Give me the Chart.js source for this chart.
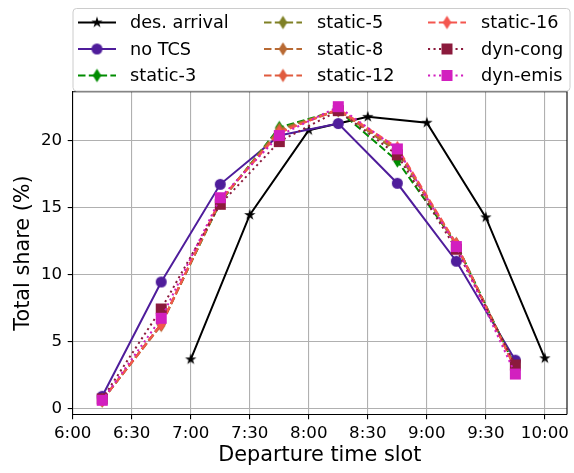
<!DOCTYPE html>
<html>
<head>
<meta charset="utf-8">
<script src="https://cdn.jsdelivr.net/npm/chart.js@4"></script>
<style>
  html, body { margin: 0; padding: 0; background: #fff; }
  canvas { display: block; }
</style>
</head>
<body>
<canvas id="shareChart" width="574" height="473"></canvas>
<script>
// Time slots (minutes after midnight)
const slotTimes = [375, 405, 435, 465, 495, 525, 555, 585];
const arrivalTimes = [420, 450, 480, 510, 540, 570, 600];

// Axis ticks
const xTickValues = [360, 390, 420, 450, 480, 510, 540, 570, 600];
const xTickLabels = ['6:00', '6:30', '7:00', '7:30', '8:00', '8:30', '9:00', '9:30', '10:00'];
const yTickValues = [0, 5, 10, 15, 20];

// Total share (%) per slot
const desArrival = [3.66, 14.46, 20.8, 21.8, 21.36, 14.28, 3.74];
const noTCS = [0.9, 9.45, 16.75, 20.4, 21.3, 16.83, 11.0, 3.6];
const static3 = [0.6, 6.3, 15.4, 21.0, 22.3, 18.5, 12.3, 3.1];
const static5 = [0.6, 6.3, 15.5, 20.9, 22.3, 19.2, 12.2, 3.0];
const static8 = [0.6, 6.2, 15.5, 20.8, 22.3, 19.3, 12.3, 3.0];
const static12 = [0.6, 6.3, 15.5, 20.7, 22.3, 19.4, 12.2, 3.0];
const static16 = [0.6, 6.3, 15.6, 20.6, 22.4, 19.5, 12.3, 2.9];
const dynCong = [0.7, 7.43, 15.26, 19.95, 22.26, 18.95, 11.9, 3.24];
const dynEmis = [0.6, 6.73, 15.75, 20.4, 22.56, 19.4, 12.1, 2.56];

const FONT = '"DejaVu Sans", sans-serif';
const DASHED = [7.5, 3.3];
const DOTTED = [2.1, 3.4];

/**
 * Build a small canvas used as a point marker
 */
function makeMarker(shape, color, w, h) {
    const c = document.createElement('canvas');
    c.width = Math.ceil(w) + 2;
    c.height = Math.ceil(h) + 2;
    const g = c.getContext('2d');
    const cx = c.width / 2, cy = c.height / 2;
    g.fillStyle = color;
    g.beginPath();
    if (shape === 'circle') {
        g.arc(cx, cy, w / 2, 0, Math.PI * 2);
    } else if (shape === 'square') {
        g.rect(cx - w / 2, cy - h / 2, w, h);
    } else if (shape === 'diamond') {
        g.moveTo(cx, cy - h / 2);
        g.lineTo(cx + w / 2, cy);
        g.lineTo(cx, cy + h / 2);
        g.lineTo(cx - w / 2, cy);
        g.closePath();
    } else if (shape === 'star') {
        for (let i = 0; i < 10; i++) {
            const r = i % 2 ? (w / 2) * 0.382 : w / 2;
            const a = -Math.PI / 2 + i * Math.PI / 5;
            g.lineTo(cx + r * Math.cos(a), cy + r * Math.sin(a));
        }
        g.closePath();
    }
    g.fill();
    return c;
}

const series = [
    { label: 'des. arrival', xs: arrivalTimes, ys: desArrival, color: '#000000', dash: [], marker: makeMarker('star', '#000000', 12, 12) },
    { label: 'no TCS', xs: slotTimes, ys: noTCS, color: '#4f1d9b', dash: [], marker: makeMarker('circle', '#4f1d9b', 11, 11) },
    { label: 'static-3', xs: slotTimes, ys: static3, color: '#008c00', dash: DASHED, marker: makeMarker('diamond', '#008c00', 8.5, 13.5) },
    { label: 'static-5', xs: slotTimes, ys: static5, color: '#7f8025', dash: DASHED, marker: makeMarker('diamond', '#7f8025', 8.5, 13.5) },
    { label: 'static-8', xs: slotTimes, ys: static8, color: '#b86a34', dash: DASHED, marker: makeMarker('diamond', '#b86a34', 8.5, 13.5) },
    { label: 'static-12', xs: slotTimes, ys: static12, color: '#e05b3e', dash: DASHED, marker: makeMarker('diamond', '#e05b3e', 8.5, 13.5) },
    { label: 'static-16', xs: slotTimes, ys: static16, color: '#f4564f', dash: DASHED, marker: makeMarker('diamond', '#f4564f', 8.5, 13.5) },
    { label: 'dyn-cong', xs: slotTimes, ys: dynCong, color: '#8b1a3c', dash: DOTTED, marker: makeMarker('square', '#8b1a3c', 11, 11) },
    { label: 'dyn-emis', xs: slotTimes, ys: dynEmis, color: '#d21fbf', dash: DOTTED, marker: makeMarker('square', '#d21fbf', 11, 11) }
];

// Legend grid positions (column-major, 3 rows)
const legendCols = [{ handle: 78, text: 130 }, { handle: 264, text: 317 }, { handle: 428, text: 481 }];
const legendRows = [22.5, 49, 75.5];

const frameAndLegend = {
    id: 'frameAndLegend',
    afterDatasetsDraw(chart) {
        const ctx = chart.ctx;
        const a = chart.chartArea;
        ctx.save();
        // top and right spines
        ctx.strokeStyle = '#000';
        ctx.lineWidth = 1.1;
        ctx.beginPath();
        ctx.moveTo(a.left, a.top);
        ctx.lineTo(a.right, a.top);
        ctx.lineTo(a.right, a.bottom);
        ctx.stroke();

        // legend box
        const bx = 73, by = 8.5, bw = 497, bh = 82.5, r = 3.5;
        ctx.beginPath();
        ctx.moveTo(bx + r, by);
        ctx.arcTo(bx + bw, by, bx + bw, by + bh, r);
        ctx.arcTo(bx + bw, by + bh, bx, by + bh, r);
        ctx.arcTo(bx, by + bh, bx, by, r);
        ctx.arcTo(bx, by, bx + bw, by, r);
        ctx.closePath();
        ctx.fillStyle = 'rgba(255,255,255,0.8)';
        ctx.fill();
        ctx.strokeStyle = '#cccccc';
        ctx.lineWidth = 1;
        ctx.stroke();

        // legend entries
        ctx.font = '17.7px ' + FONT;
        ctx.textBaseline = 'middle';
        ctx.textAlign = 'left';
        series.forEach((s, i) => {
            const col = legendCols[Math.floor(i / 3)];
            const y = legendRows[i % 3];
            ctx.strokeStyle = s.color;
            ctx.lineWidth = 2;
            ctx.setLineDash(s.dash);
            ctx.beginPath();
            ctx.moveTo(col.handle, y);
            ctx.lineTo(col.handle + 38, y);
            ctx.stroke();
            ctx.setLineDash([]);
            const m = s.marker;
            ctx.drawImage(m, col.handle + 19 - m.width / 2, y - m.height / 2);
            ctx.fillStyle = '#000';
            ctx.fillText(s.label, col.text, y + 1);
        });
        ctx.restore();
    }
};

const datasets = series.map((s, i) => ({
    label: s.label,
    data: s.xs.map((x, k) => ({ x: x, y: s.ys[k] })),
    borderColor: s.color,
    backgroundColor: s.color,
    borderWidth: 2,
    borderDash: s.dash,
    pointStyle: s.marker,
    pointRadius: 5,
    pointHoverRadius: 5,
    fill: false,
    tension: 0,
    order: series.length - i
}));

const ctx = document.getElementById('shareChart').getContext('2d');
new Chart(ctx, {
    type: 'line',
    data: { datasets: datasets },
    plugins: [frameAndLegend],
    options: {
        responsive: false,
        animation: false,
        devicePixelRatio: 1,
        layout: { padding: { top: 91.7, right: 4, bottom: 0, left: 0 } },
        plugins: {
            legend: { display: false },
            tooltip: { enabled: false }
        },
        scales: {
            x: {
                type: 'linear',
                min: 360,
                max: 611.25,
                afterBuildTicks: scale => { scale.ticks = xTickValues.map(v => ({ value: v })); },
                afterFit: scale => { scale.height = 58.7; },
                ticks: {
                    autoSkip: false,
                    maxRotation: 0,
                    padding: 4,
                    color: '#000',
                    font: { family: FONT, size: 16.67 },
                    callback: value => xTickLabels[xTickValues.indexOf(value)]
                },
                grid: { color: '#b0b0b0', lineWidth: 1.1, tickLength: 5, tickColor: '#000', tickWidth: 1.1 },
                border: { color: '#000', width: 1.1 },
                title: {
                    display: true,
                    text: 'Departure time slot',
                    color: '#000',
                    font: { family: FONT, size: 20.8 },
                    padding: { top: 0, bottom: 4.5 }
                }
            },
            y: {
                type: 'linear',
                min: -0.45,
                max: 23.68,
                afterBuildTicks: scale => { scale.ticks = yTickValues.map(v => ({ value: v })); },
                afterFit: scale => { scale.width = 72.7; },
                ticks: {
                    padding: 5.5,
                    color: '#000',
                    font: { family: FONT, size: 16.67 }
                },
                grid: { color: '#b0b0b0', lineWidth: 1.1, tickLength: 5, tickColor: '#000', tickWidth: 1.1 },
                border: { color: '#000', width: 1.1 },
                title: {
                    display: true,
                    text: 'Total share (%)',
                    color: '#000',
                    font: { family: FONT, size: 20.8 },
                    padding: { top: 11, bottom: 0 }
                }
            }
        }
    }
});
</script>
</body>
</html>
